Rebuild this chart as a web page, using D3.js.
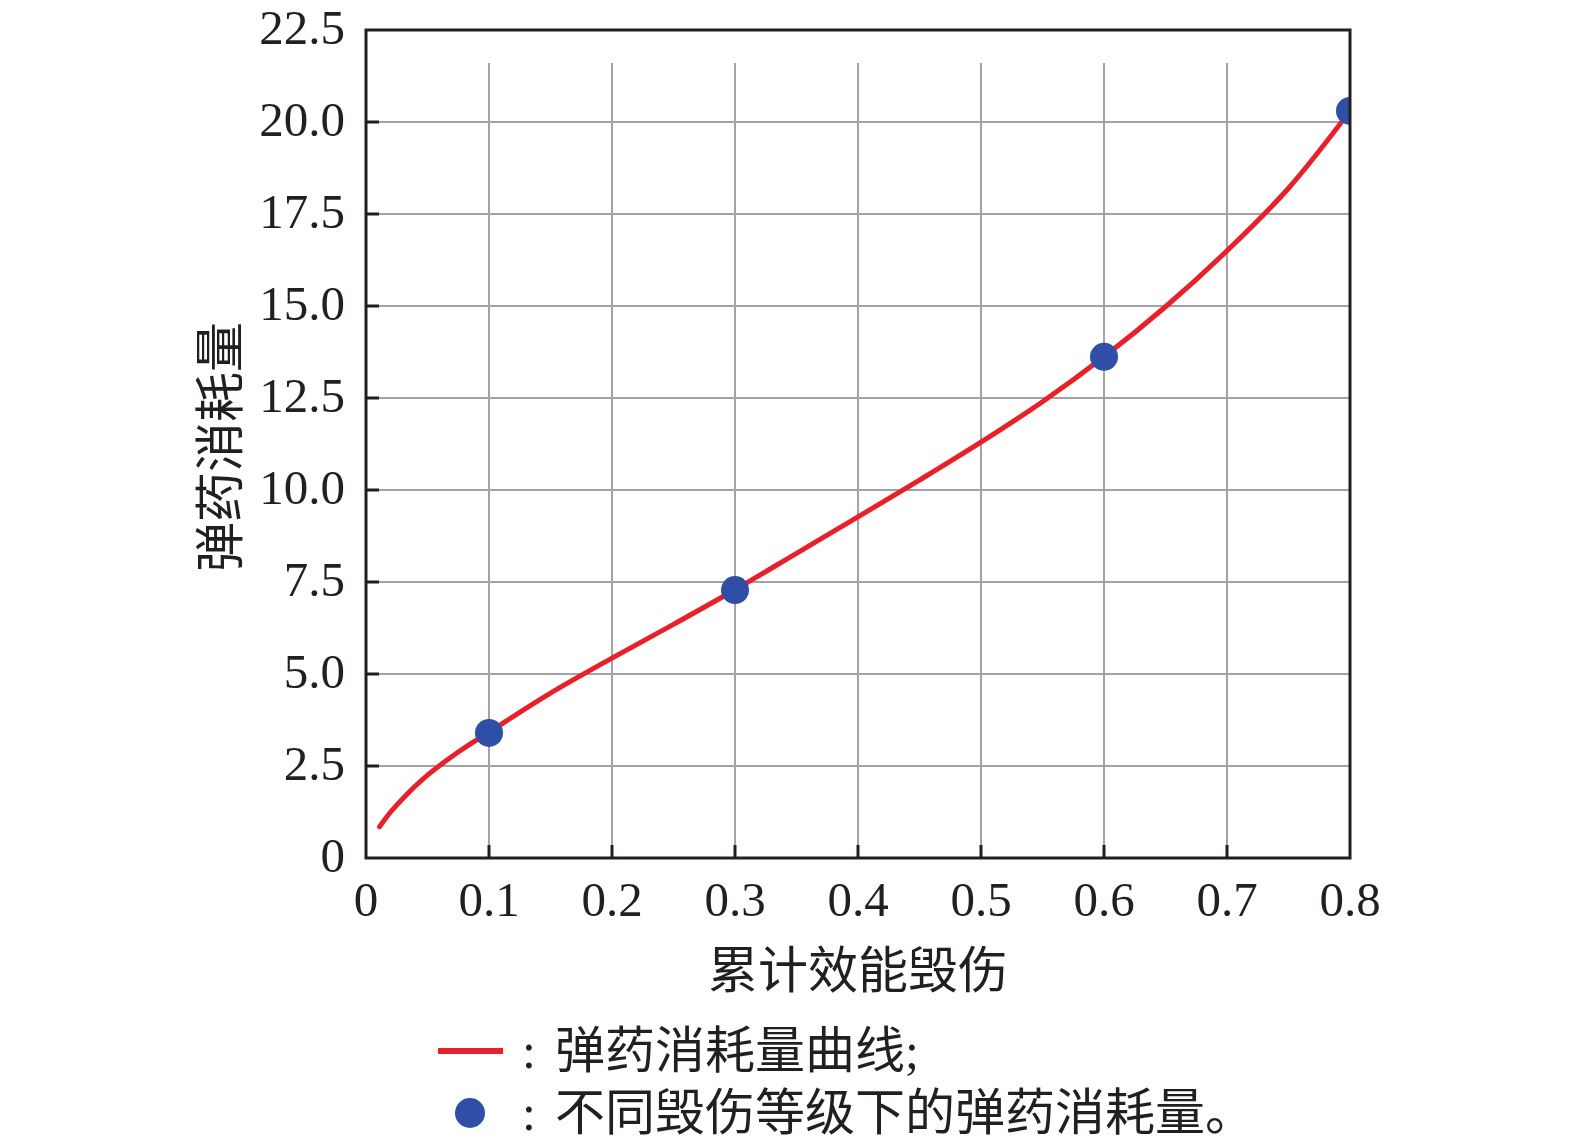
<!DOCTYPE html>
<meta charset="utf-8">
<html>
<style>
	body { margin: 0; background: #fff; }
	.num { font-family: "Liberation Serif", "DejaVu Serif", serif; font-size: 49px; fill: #231f20; }
	.cjk { font-family: "Noto Sans CJK SC", sans-serif; font-size: 50px; fill: #231f20; }
	.leg { font-family: "Liberation Serif", "Noto Sans CJK SC", serif; font-size: 50px; fill: #231f20; }
</style>
<body>
<div id="chart"></div>
<script src="https://d3js.org/d3.v7.min.js"></script>
<script>
	// ----- Data -----
	const curve_x = [0.011, 0.02, 0.03, 0.05, 0.075, 0.1, 0.15, 0.2, 0.25, 0.3, 0.35, 0.4, 0.45, 0.5, 0.55, 0.6, 0.65, 0.7, 0.75, 0.8]
	const curve_y = [0.85, 1.25, 1.62, 2.25, 2.88, 3.42, 4.48, 5.43, 6.35, 7.29, 8.28, 9.27, 10.27, 11.3, 12.4, 13.62, 14.98, 16.5, 18.2, 20.3]
	const level_x = [0.1, 0.3, 0.6, 0.8]
	const level_y = [3.4, 7.28, 13.62, 20.3]
	const x_ticks = [0, 0.1, 0.2, 0.3, 0.4, 0.5, 0.6, 0.7, 0.8]
	const y_ticks = [0, 2.5, 5.0, 7.5, 10.0, 12.5, 15.0, 17.5, 20.0, 22.5]
	const x_title = "累计效能毁伤"
	const y_title = "弹药消耗量"
	const legend_labels = ["弹药消耗量曲线;", "不同毁伤等级下的弹药消耗量。"]

	const col_line = "#e8202a"
	const col_dot = "#2f4ea6"
	const col_grid = "#a3a3a3"

	const W = 1575, H = 1144
	const m_left = 366, m_right = 1350, m_top = 30, m_bottom = 858

	const svg = d3.select("#chart").append("svg")
		.attr("width", W).attr("height", H)

	const x = d3.scaleLinear().domain([0, 0.8]).range([m_left, m_right])
	const y = d3.scaleLinear().domain([0, 22.5]).range([m_bottom, m_top])

	// grid
	svg.append("g").selectAll("line")
		.data(x_ticks.filter(d => d > 0 && d < 0.8))
		.join("line")
		.attr("x1", d => x(d)).attr("x2", d => x(d))
		.attr("y1", 63).attr("y2", m_bottom)
		.attr("stroke", col_grid).attr("stroke-width", 2)

	svg.append("g").selectAll("line")
		.data(y_ticks.filter(d => d > 0 && d < 22.5))
		.join("line")
		.attr("x1", m_left).attr("x2", m_right)
		.attr("y1", d => y(d)).attr("y2", d => y(d))
		.attr("stroke", col_grid).attr("stroke-width", 2)

	// clip to plot area
	svg.append("clipPath").attr("id", "clip")
		.append("rect").attr("x", m_left).attr("y", m_top)
		.attr("width", m_right - m_left).attr("height", m_bottom - m_top)

	const plot = svg.append("g").attr("clip-path", "url(#clip)")

	const line = d3.line()
		.x((d, i) => x(curve_x[i]))
		.y(d => y(d))
		.curve(d3.curveCatmullRom.alpha(0.5))

	plot.append("path")
		.datum(curve_y)
		.attr("d", line)
		.attr("fill", "none")
		.attr("stroke", col_line)
		.attr("stroke-width", 5)
		.attr("stroke-linecap", "round")

	plot.selectAll("circle")
		.data(level_y)
		.join("circle")
		.attr("cx", (d, i) => x(level_x[i]))
		.attr("cy", d => y(d))
		.attr("r", 14)
		.attr("fill", col_dot)

	// ticks (inward)
	svg.append("g").selectAll("line")
		.data(x_ticks.filter(d => d > 0 && d < 0.8))
		.join("line")
		.attr("x1", d => x(d)).attr("x2", d => x(d))
		.attr("y1", m_bottom).attr("y2", m_bottom - 13)
		.attr("stroke", "#231f20").attr("stroke-width", 3)

	svg.append("g").selectAll("line")
		.data(y_ticks.filter(d => d > 0 && d < 22.5))
		.join("line")
		.attr("x1", m_left).attr("x2", m_left + 13)
		.attr("y1", d => y(d)).attr("y2", d => y(d))
		.attr("stroke", "#231f20").attr("stroke-width", 3)

	// frame
	svg.append("rect")
		.attr("x", m_left).attr("y", m_top)
		.attr("width", m_right - m_left).attr("height", m_bottom - m_top)
		.attr("fill", "none").attr("stroke", "#231f20").attr("stroke-width", 3)

	// tick labels
	svg.append("g").selectAll("text")
		.data(x_ticks)
		.join("text")
		.attr("class", "num")
		.attr("x", d => x(d)).attr("y", 916)
		.attr("text-anchor", "middle")
		.text(d => d === 0 ? "0" : d3.format(".1f")(d))

	svg.append("g").selectAll("text")
		.data(y_ticks)
		.join("text")
		.attr("class", "num")
		.attr("x", 345).attr("y", d => y(d) + 14)
		.attr("text-anchor", "end")
		.text(d => d === 0 ? "0" : d3.format(".1f")(d))

	// axis titles
	svg.append("text")
		.attr("class", "cjk")
		.attr("x", (m_left + m_right) / 2).attr("y", 966)
		.attr("text-anchor", "middle")
		.attr("dominant-baseline", "central")
		.text(x_title)

	svg.append("text")
		.attr("class", "cjk")
		.attr("transform", "translate(216,447) rotate(-90)")
		.attr("text-anchor", "middle")
		.attr("dominant-baseline", "central")
		.text(y_title)

	// legend
	svg.append("line")
		.attr("x1", 438).attr("x2", 503)
		.attr("y1", 1051).attr("y2", 1051)
		.attr("stroke", col_line).attr("stroke-width", 6)

	svg.append("circle")
		.attr("cx", 470).attr("cy", 1113)
		.attr("r", 15)
		.attr("fill", col_dot)

	svg.append("g").selectAll("text")
		.data(legend_labels)
		.join("text")
		.attr("class", "leg")
		.attr("x", 529)
		.attr("y", (d, i) => 1068 + i * 62)
		.attr("text-anchor", "middle")
		.text(":")

	svg.append("g").selectAll("text")
		.data(legend_labels)
		.join("text")
		.attr("class", "leg")
		.attr("x", 555)
		.attr("y", (d, i) => 1068 + i * 62)
		.text(d => d)
</script>
</body>
</html>
